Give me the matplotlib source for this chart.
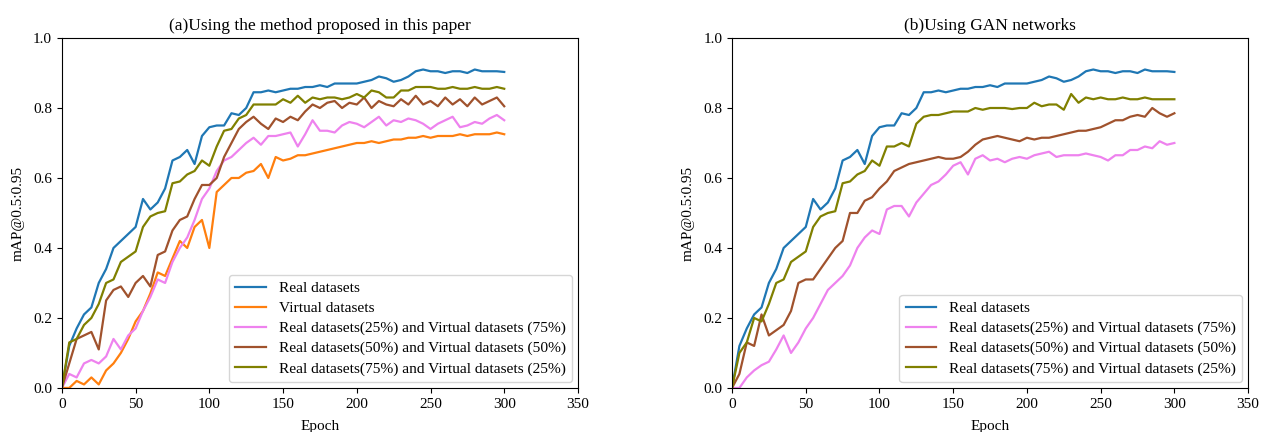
import matplotlib

matplotlib.use("Agg")
import matplotlib.pyplot as plt

EPOCHS = list(range(0, 301, 5))

REAL = [0.00, 0.12, 0.17, 0.21, 0.23, 0.30, 0.34, 0.40, 0.42, 0.44,
        0.46, 0.54, 0.51, 0.53, 0.57, 0.65, 0.66, 0.68, 0.64, 0.72,
        0.745, 0.75, 0.75, 0.785, 0.78, 0.80, 0.845, 0.845, 0.85, 0.845,
        0.85, 0.855, 0.855, 0.86, 0.86, 0.865, 0.86, 0.87, 0.87, 0.87,
        0.87, 0.875, 0.88, 0.89, 0.885, 0.875, 0.88, 0.89, 0.905, 0.91,
        0.905, 0.905, 0.90, 0.905, 0.905, 0.90, 0.91, 0.905, 0.905, 0.905, 0.903]

VIRTUAL = [0.00, 0.00, 0.02, 0.01, 0.03, 0.01, 0.05, 0.07, 0.10, 0.14,
           0.19, 0.22, 0.27, 0.33, 0.32, 0.37, 0.42, 0.40, 0.46, 0.48,
           0.40, 0.56, 0.58, 0.60, 0.60, 0.615, 0.62, 0.64, 0.60, 0.66,
           0.65, 0.655, 0.665, 0.665, 0.67, 0.675, 0.68, 0.685, 0.69, 0.695,
           0.70, 0.70, 0.705, 0.70, 0.705, 0.71, 0.71, 0.715, 0.715, 0.72,
           0.715, 0.72, 0.72, 0.72, 0.725, 0.72, 0.725, 0.725, 0.725, 0.73, 0.725]

# panel (a): proposed method
A_R25 = [0.00, 0.04, 0.03, 0.07, 0.08, 0.07, 0.09, 0.14, 0.11, 0.15,
         0.17, 0.22, 0.26, 0.31, 0.30, 0.36, 0.40, 0.43, 0.48, 0.54,
         0.57, 0.62, 0.65, 0.66, 0.68, 0.70, 0.715, 0.695, 0.72, 0.72,
         0.725, 0.73, 0.69, 0.725, 0.765, 0.735, 0.735, 0.73, 0.75, 0.76,
         0.755, 0.745, 0.76, 0.775, 0.75, 0.765, 0.76, 0.77, 0.765, 0.755,
         0.74, 0.755, 0.765, 0.775, 0.745, 0.75, 0.76, 0.755, 0.77, 0.78, 0.765]
A_R50 = [0.00, 0.07, 0.14, 0.15, 0.16, 0.11, 0.25, 0.28, 0.29, 0.26,
         0.30, 0.32, 0.29, 0.38, 0.39, 0.45, 0.48, 0.49, 0.54, 0.58,
         0.58, 0.60, 0.66, 0.70, 0.74, 0.76, 0.775, 0.755, 0.74, 0.77,
         0.76, 0.775, 0.765, 0.79, 0.81, 0.80, 0.815, 0.82, 0.80, 0.815,
         0.81, 0.83, 0.80, 0.82, 0.81, 0.805, 0.825, 0.81, 0.835, 0.81,
         0.82, 0.805, 0.83, 0.81, 0.825, 0.805, 0.83, 0.81, 0.82, 0.83, 0.805]
A_R75 = [0.00, 0.13, 0.14, 0.18, 0.20, 0.24, 0.30, 0.31, 0.36, 0.375,
         0.39, 0.46, 0.49, 0.50, 0.505, 0.585, 0.59, 0.61, 0.62, 0.65,
         0.635, 0.69, 0.735, 0.74, 0.77, 0.78, 0.81, 0.81, 0.81, 0.81,
         0.825, 0.815, 0.835, 0.815, 0.83, 0.825, 0.83, 0.83, 0.825, 0.83,
         0.84, 0.83, 0.85, 0.845, 0.83, 0.83, 0.85, 0.85, 0.86, 0.86,
         0.86, 0.855, 0.855, 0.86, 0.855, 0.855, 0.86, 0.855, 0.855, 0.86, 0.855]

# panel (b): GAN networks
B_R25 = [0.00, 0.00, 0.03, 0.05, 0.065, 0.075, 0.11, 0.15, 0.10, 0.13,
         0.17, 0.20, 0.24, 0.28, 0.30, 0.32, 0.35, 0.40, 0.43, 0.45,
         0.44, 0.51, 0.52, 0.52, 0.49, 0.53, 0.555, 0.58, 0.59, 0.61,
         0.635, 0.645, 0.61, 0.655, 0.665, 0.65, 0.655, 0.645, 0.655, 0.66,
         0.655, 0.665, 0.67, 0.675, 0.66, 0.665, 0.665, 0.665, 0.67, 0.665,
         0.66, 0.65, 0.665, 0.665, 0.68, 0.68, 0.69, 0.685, 0.705, 0.695, 0.70]
B_R50 = [0.00, 0.04, 0.13, 0.12, 0.21, 0.15, 0.165, 0.18, 0.22, 0.30,
         0.31, 0.31, 0.34, 0.37, 0.40, 0.42, 0.50, 0.50, 0.535, 0.545,
         0.57, 0.59, 0.62, 0.63, 0.64, 0.645, 0.65, 0.655, 0.66, 0.655,
         0.655, 0.66, 0.675, 0.695, 0.71, 0.715, 0.72, 0.715, 0.71, 0.705,
         0.715, 0.71, 0.715, 0.715, 0.72, 0.725, 0.73, 0.735, 0.735, 0.74,
         0.745, 0.755, 0.765, 0.765, 0.775, 0.78, 0.775, 0.80, 0.785, 0.775, 0.785]
B_R75 = [0.00, 0.10, 0.13, 0.20, 0.19, 0.24, 0.30, 0.31, 0.36, 0.375,
         0.39, 0.46, 0.49, 0.50, 0.505, 0.585, 0.59, 0.61, 0.62, 0.65,
         0.635, 0.69, 0.69, 0.70, 0.69, 0.755, 0.775, 0.78, 0.78, 0.785,
         0.79, 0.79, 0.79, 0.80, 0.795, 0.80, 0.80, 0.80, 0.797, 0.80,
         0.80, 0.815, 0.805, 0.81, 0.81, 0.795, 0.84, 0.815, 0.83, 0.825,
         0.83, 0.825, 0.825, 0.83, 0.825, 0.825, 0.83, 0.825, 0.825, 0.825, 0.825]

LBL_REAL = "Real datasets"
LBL_VIRT = "Virtual datasets"
LBL_25 = "Real datasets(25%) and Virtual datasets (75%)"
LBL_50 = "Real datasets(50%) and Virtual datasets (50%)"
LBL_75 = "Real datasets(75%) and Virtual datasets (25%)"

C_REAL, C_VIRT, C_25, C_50, C_75 = "#1f77b4", "#ff7f0e", "violet", "sienna", "olive"

plt.rcParams.update({"font.family": ["Liberation Serif", "DejaVu Serif"], "font.size": 11})

fig = plt.figure(figsize=(12.63, 4.32), dpi=100)
axA = fig.add_axes([0.049, 0.102, 0.4086, 0.810])
axB = fig.add_axes([0.5796, 0.102, 0.4086, 0.810])

# ---- (a) proposed method ----
axA.plot(EPOCHS, REAL, color=C_REAL, lw=1.6, label=LBL_REAL)
axA.plot(EPOCHS, VIRTUAL, color=C_VIRT, lw=1.6, label=LBL_VIRT)
axA.plot(EPOCHS, A_R25, color=C_25, lw=1.6, label=LBL_25)
axA.plot(EPOCHS, A_R50, color=C_50, lw=1.6, label=LBL_50)
axA.plot(EPOCHS, A_R75, color=C_75, lw=1.6, label=LBL_75)
axA.set_title("(a)Using the method proposed in this paper", fontsize=12.5, pad=6)

# ---- (b) GAN ----
axB.plot(EPOCHS, REAL, color=C_REAL, lw=1.6, label=LBL_REAL)
axB.plot(EPOCHS, B_R25, color=C_25, lw=1.6, label=LBL_25)
axB.plot(EPOCHS, B_R50, color=C_50, lw=1.6, label=LBL_50)
axB.plot(EPOCHS, B_R75, color=C_75, lw=1.6, label=LBL_75)
axB.set_title("(b)Using GAN networks", fontsize=12.5, pad=6)

for ax in (axA, axB):
    ax.set_xlim(0, 350)
    ax.set_ylim(0, 1.0)
    ax.set_xticks(range(0, 351, 50))
    ax.set_yticks([0.0, 0.2, 0.4, 0.6, 0.8, 1.0])
    ax.set_xlabel("Epoch", fontsize=11, labelpad=7)
    ax.set_ylabel("mAP@0.5:0.95", fontsize=11, labelpad=6)
    ax.legend(loc="lower right", fontsize=11.1, labelspacing=0.4,
              borderaxespad=0.4, handlelength=2.0)

fig.savefig("out.png", dpi=100)
